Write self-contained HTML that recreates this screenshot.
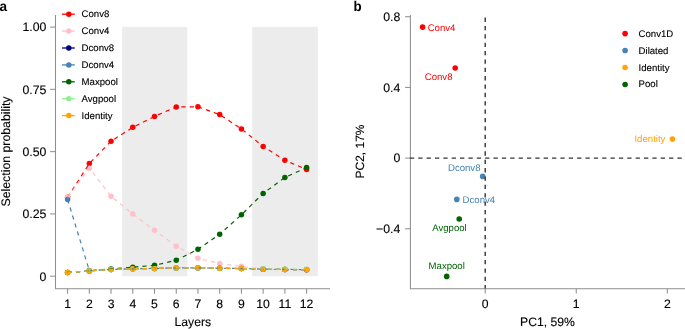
<!DOCTYPE html>
<html><head><meta charset="utf-8"><style>
html,body{margin:0;padding:0;background:#fff;width:685px;height:329px;overflow:hidden}
svg{display:block;will-change:transform}
</style></head><body>
<svg width="685" height="329" viewBox="0 0 685 329" font-family='"Liberation Sans", sans-serif' text-rendering="geometricPrecision">
<rect width="685" height="329" fill="#fff"/>
<rect x="122.2" y="26.9" width="65.1" height="249.3" fill="#ececec"/>
<rect x="252.2" y="26.9" width="65.6" height="249.3" fill="#ececec"/>
<path d="M55.5 15 V288.75 H330" fill="none" stroke="#8f8f8f" stroke-width="1.05"/>
<path d="M50.1 27.1 H55.5" stroke="#8f8f8f" stroke-width="1.05"/>
<text x="46.4" y="31.40" font-size="12.3" text-anchor="end" fill="#000" stroke="#000" stroke-width="0.12">1.00</text>
<path d="M50.1 89.35 H55.5" stroke="#8f8f8f" stroke-width="1.05"/>
<text x="46.4" y="93.65" font-size="12.3" text-anchor="end" fill="#000" stroke="#000" stroke-width="0.12">0.75</text>
<path d="M50.1 151.65 H55.5" stroke="#8f8f8f" stroke-width="1.05"/>
<text x="46.4" y="155.95" font-size="12.3" text-anchor="end" fill="#000" stroke="#000" stroke-width="0.12">0.50</text>
<path d="M50.1 213.9 H55.5" stroke="#8f8f8f" stroke-width="1.05"/>
<text x="46.4" y="218.20" font-size="12.3" text-anchor="end" fill="#000" stroke="#000" stroke-width="0.12">0.25</text>
<path d="M50.1 276.2 H55.5" stroke="#8f8f8f" stroke-width="1.05"/>
<text x="46.4" y="280.50" font-size="12.3" text-anchor="end" fill="#000" stroke="#000" stroke-width="0.12">0</text>
<path d="M67.60 288.75 V293.8" stroke="#8f8f8f" stroke-width="1.05"/>
<text x="67.60" y="307.7" font-size="12.2" text-anchor="middle" fill="#000" stroke="#000" stroke-width="0.12">1</text>
<path d="M89.33 288.75 V293.8" stroke="#8f8f8f" stroke-width="1.05"/>
<text x="89.33" y="307.7" font-size="12.2" text-anchor="middle" fill="#000" stroke="#000" stroke-width="0.12">2</text>
<path d="M111.05 288.75 V293.8" stroke="#8f8f8f" stroke-width="1.05"/>
<text x="111.05" y="307.7" font-size="12.2" text-anchor="middle" fill="#000" stroke="#000" stroke-width="0.12">3</text>
<path d="M132.78 288.75 V293.8" stroke="#8f8f8f" stroke-width="1.05"/>
<text x="132.78" y="307.7" font-size="12.2" text-anchor="middle" fill="#000" stroke="#000" stroke-width="0.12">4</text>
<path d="M154.51 288.75 V293.8" stroke="#8f8f8f" stroke-width="1.05"/>
<text x="154.51" y="307.7" font-size="12.2" text-anchor="middle" fill="#000" stroke="#000" stroke-width="0.12">5</text>
<path d="M176.24 288.75 V293.8" stroke="#8f8f8f" stroke-width="1.05"/>
<text x="176.24" y="307.7" font-size="12.2" text-anchor="middle" fill="#000" stroke="#000" stroke-width="0.12">6</text>
<path d="M197.96 288.75 V293.8" stroke="#8f8f8f" stroke-width="1.05"/>
<text x="197.96" y="307.7" font-size="12.2" text-anchor="middle" fill="#000" stroke="#000" stroke-width="0.12">7</text>
<path d="M219.69 288.75 V293.8" stroke="#8f8f8f" stroke-width="1.05"/>
<text x="219.69" y="307.7" font-size="12.2" text-anchor="middle" fill="#000" stroke="#000" stroke-width="0.12">8</text>
<path d="M241.42 288.75 V293.8" stroke="#8f8f8f" stroke-width="1.05"/>
<text x="241.42" y="307.7" font-size="12.2" text-anchor="middle" fill="#000" stroke="#000" stroke-width="0.12">9</text>
<path d="M263.14 288.75 V293.8" stroke="#8f8f8f" stroke-width="1.05"/>
<text x="263.14" y="307.7" font-size="12.2" text-anchor="middle" fill="#000" stroke="#000" stroke-width="0.12">10</text>
<path d="M284.87 288.75 V293.8" stroke="#8f8f8f" stroke-width="1.05"/>
<text x="284.87" y="307.7" font-size="12.2" text-anchor="middle" fill="#000" stroke="#000" stroke-width="0.12">11</text>
<path d="M306.60 288.75 V293.8" stroke="#8f8f8f" stroke-width="1.05"/>
<text x="306.60" y="307.7" font-size="12.2" text-anchor="middle" fill="#000" stroke="#000" stroke-width="0.12">12</text>
<text x="192.8" y="326.3" font-size="12.2" text-anchor="middle" fill="#000" stroke="#000" stroke-width="0.12">Layers</text>
<text transform="translate(10,151.5) rotate(-90)" x="0" y="0" font-size="12.3" text-anchor="middle" fill="#000" stroke="#000" stroke-width="0.12">Selection probability</text>
<text transform="translate(-0.4,10.9) scale(0.97,1)" font-size="14" font-weight="bold" fill="#000">a</text>
<circle cx="67.60" cy="197.3" r="2.75" fill="#ff0000"/>
<circle cx="89.33" cy="163.5" r="2.75" fill="#ff0000"/>
<circle cx="111.05" cy="141.2" r="2.75" fill="#ff0000"/>
<circle cx="132.78" cy="127.3" r="2.75" fill="#ff0000"/>
<circle cx="154.51" cy="116.4" r="2.75" fill="#ff0000"/>
<circle cx="176.24" cy="106.9" r="2.75" fill="#ff0000"/>
<circle cx="197.96" cy="106.8" r="2.75" fill="#ff0000"/>
<circle cx="219.69" cy="114.6" r="2.75" fill="#ff0000"/>
<circle cx="241.42" cy="128.9" r="2.75" fill="#ff0000"/>
<circle cx="263.14" cy="146.4" r="2.75" fill="#ff0000"/>
<circle cx="284.87" cy="160.3" r="2.75" fill="#ff0000"/>
<circle cx="306.60" cy="169.4" r="2.75" fill="#ff0000"/>
<circle cx="67.60" cy="197.3" r="2.75" fill="#ffc0cb"/>
<circle cx="89.33" cy="168.2" r="2.75" fill="#ffc0cb"/>
<circle cx="111.05" cy="196.2" r="2.75" fill="#ffc0cb"/>
<circle cx="132.78" cy="214.0" r="2.75" fill="#ffc0cb"/>
<circle cx="154.51" cy="230.2" r="2.75" fill="#ffc0cb"/>
<circle cx="176.24" cy="246.2" r="2.75" fill="#ffc0cb"/>
<circle cx="197.96" cy="258.3" r="2.75" fill="#ffc0cb"/>
<circle cx="219.69" cy="263.6" r="2.75" fill="#ffc0cb"/>
<circle cx="241.42" cy="266.3" r="2.75" fill="#ffc0cb"/>
<circle cx="263.14" cy="269.2" r="2.75" fill="#ffc0cb"/>
<circle cx="284.87" cy="269.5" r="2.75" fill="#ffc0cb"/>
<circle cx="306.60" cy="269.7" r="2.75" fill="#ffc0cb"/>
<circle cx="67.60" cy="272.4" r="2.75" fill="#000080"/>
<circle cx="89.33" cy="270.9" r="2.75" fill="#000080"/>
<circle cx="111.05" cy="269.4" r="2.75" fill="#000080"/>
<circle cx="132.78" cy="268.8" r="2.75" fill="#000080"/>
<circle cx="154.51" cy="268.4" r="2.75" fill="#000080"/>
<circle cx="176.24" cy="267.9" r="2.75" fill="#000080"/>
<circle cx="197.96" cy="267.8" r="2.75" fill="#000080"/>
<circle cx="219.69" cy="268.2" r="2.75" fill="#000080"/>
<circle cx="241.42" cy="268.6" r="2.75" fill="#000080"/>
<circle cx="263.14" cy="269.2" r="2.75" fill="#000080"/>
<circle cx="284.87" cy="269.5" r="2.75" fill="#000080"/>
<circle cx="306.60" cy="269.7" r="2.75" fill="#000080"/>
<circle cx="67.60" cy="199.5" r="2.75" fill="#4682b4"/>
<circle cx="89.33" cy="270.6" r="2.75" fill="#4682b4"/>
<circle cx="111.05" cy="269.5" r="2.75" fill="#4682b4"/>
<circle cx="132.78" cy="268.8" r="2.75" fill="#4682b4"/>
<circle cx="154.51" cy="268.4" r="2.75" fill="#4682b4"/>
<circle cx="176.24" cy="268.0" r="2.75" fill="#4682b4"/>
<circle cx="197.96" cy="267.9" r="2.75" fill="#4682b4"/>
<circle cx="219.69" cy="268.2" r="2.75" fill="#4682b4"/>
<circle cx="241.42" cy="268.6" r="2.75" fill="#4682b4"/>
<circle cx="263.14" cy="269.1" r="2.75" fill="#4682b4"/>
<circle cx="284.87" cy="269.4" r="2.75" fill="#4682b4"/>
<circle cx="306.60" cy="269.6" r="2.75" fill="#4682b4"/>
<circle cx="67.60" cy="272.4" r="2.75" fill="#006400"/>
<circle cx="89.33" cy="270.9" r="2.75" fill="#006400"/>
<circle cx="111.05" cy="268.9" r="2.75" fill="#006400"/>
<circle cx="132.78" cy="267.2" r="2.75" fill="#006400"/>
<circle cx="154.51" cy="265.3" r="2.75" fill="#006400"/>
<circle cx="176.24" cy="260.3" r="2.75" fill="#006400"/>
<circle cx="197.96" cy="249.3" r="2.75" fill="#006400"/>
<circle cx="219.69" cy="234.2" r="2.75" fill="#006400"/>
<circle cx="241.42" cy="214.8" r="2.75" fill="#006400"/>
<circle cx="263.14" cy="193.4" r="2.75" fill="#006400"/>
<circle cx="284.87" cy="177.5" r="2.75" fill="#006400"/>
<circle cx="306.60" cy="167.6" r="2.75" fill="#006400"/>
<circle cx="67.60" cy="272.4" r="2.75" fill="#90ee90"/>
<circle cx="89.33" cy="270.9" r="2.75" fill="#90ee90"/>
<circle cx="111.05" cy="269.4" r="2.75" fill="#90ee90"/>
<circle cx="132.78" cy="268.8" r="2.75" fill="#90ee90"/>
<circle cx="154.51" cy="268.4" r="2.75" fill="#90ee90"/>
<circle cx="176.24" cy="267.9" r="2.75" fill="#90ee90"/>
<circle cx="197.96" cy="267.8" r="2.75" fill="#90ee90"/>
<circle cx="219.69" cy="268.2" r="2.75" fill="#90ee90"/>
<circle cx="241.42" cy="268.6" r="2.75" fill="#90ee90"/>
<circle cx="263.14" cy="268.8" r="2.75" fill="#90ee90"/>
<circle cx="284.87" cy="269.1" r="2.75" fill="#90ee90"/>
<circle cx="306.60" cy="269.3" r="2.75" fill="#90ee90"/>
<circle cx="67.60" cy="272.4" r="2.75" fill="#ffa500"/>
<circle cx="89.33" cy="270.9" r="2.75" fill="#ffa500"/>
<circle cx="111.05" cy="269.4" r="2.75" fill="#ffa500"/>
<circle cx="132.78" cy="268.8" r="2.75" fill="#ffa500"/>
<circle cx="154.51" cy="268.4" r="2.75" fill="#ffa500"/>
<circle cx="176.24" cy="267.9" r="2.75" fill="#ffa500"/>
<circle cx="197.96" cy="267.8" r="2.75" fill="#ffa500"/>
<circle cx="219.69" cy="268.2" r="2.75" fill="#ffa500"/>
<circle cx="241.42" cy="268.6" r="2.75" fill="#ffa500"/>
<circle cx="263.14" cy="269.2" r="2.75" fill="#ffa500"/>
<circle cx="284.87" cy="269.5" r="2.75" fill="#ffa500"/>
<circle cx="306.60" cy="269.7" r="2.75" fill="#ffa500"/>
<polyline points="67.60,197.3 89.33,163.5 111.05,141.2 132.78,127.3 154.51,116.4 176.24,106.9 197.96,106.8 219.69,114.6 241.42,128.9 263.14,146.4 284.87,160.3 306.60,169.4" fill="none" stroke="#ff0000" stroke-width="1.2" stroke-dasharray="4.2 4.15"/>
<polyline points="67.60,197.3 89.33,168.2 111.05,196.2 132.78,214.0 154.51,230.2 176.24,246.2 197.96,258.3 219.69,263.6 241.42,266.3 263.14,269.2 284.87,269.5 306.60,269.7" fill="none" stroke="#ffc0cb" stroke-width="1.2" stroke-dasharray="4.2 4.15"/>
<polyline points="67.60,272.4 89.33,270.9 111.05,269.4 132.78,268.8 154.51,268.4 176.24,267.9 197.96,267.8 219.69,268.2 241.42,268.6 263.14,269.2 284.87,269.5 306.60,269.7" fill="none" stroke="#000080" stroke-width="1.2" stroke-dasharray="4.2 4.15"/>
<polyline points="67.60,199.5 89.33,270.6 111.05,269.5 132.78,268.8 154.51,268.4 176.24,268.0 197.96,267.9 219.69,268.2 241.42,268.6 263.14,269.1 284.87,269.4 306.60,269.6" fill="none" stroke="#4682b4" stroke-width="1.2" stroke-dasharray="4.2 4.15"/>
<polyline points="67.60,272.4 89.33,270.9 111.05,268.9 132.78,267.2 154.51,265.3 176.24,260.3 197.96,249.3 219.69,234.2 241.42,214.8 263.14,193.4 284.87,177.5 306.60,167.6" fill="none" stroke="#006400" stroke-width="1.2" stroke-dasharray="4.2 4.15"/>
<polyline points="67.60,272.4 89.33,270.9 111.05,269.4 132.78,268.8 154.51,268.4 176.24,267.9 197.96,267.8 219.69,268.2 241.42,268.6 263.14,268.8 284.87,269.1 306.60,269.3" fill="none" stroke="#90ee90" stroke-width="1.2" stroke-dasharray="4.2 4.15"/>
<polyline points="67.60,272.4 89.33,270.9 111.05,269.4 132.78,268.8 154.51,268.4 176.24,267.9 197.96,267.8 219.69,268.2 241.42,268.6 263.14,269.2 284.87,269.5 306.60,269.7" fill="none" stroke="#ffa500" stroke-width="1.2" stroke-dasharray="4.2 4.15"/>
<path d="M62 14.2 H74.8" stroke="#ff0000" stroke-width="1.3"/>
<circle cx="68.8" cy="14.2" r="2.75" fill="#ff0000"/>
<text x="81.6" y="17.2" font-size="9.6" fill="#000" stroke="#000" stroke-width="0.12">Conv8</text>
<path d="M62 31.1 H74.8" stroke="#ffc0cb" stroke-width="1.3"/>
<circle cx="68.8" cy="31.1" r="2.75" fill="#ffc0cb"/>
<text x="81.6" y="34.1" font-size="9.6" fill="#000" stroke="#000" stroke-width="0.12">Conv4</text>
<path d="M62 48.0 H74.8" stroke="#000080" stroke-width="1.3"/>
<circle cx="68.8" cy="48.0" r="2.75" fill="#000080"/>
<text x="81.6" y="51.0" font-size="9.6" fill="#000" stroke="#000" stroke-width="0.12">Dconv8</text>
<path d="M62 64.9 H74.8" stroke="#4682b4" stroke-width="1.3"/>
<circle cx="68.8" cy="64.9" r="2.75" fill="#4682b4"/>
<text x="81.6" y="67.9" font-size="9.6" fill="#000" stroke="#000" stroke-width="0.12">Dconv4</text>
<path d="M62 81.8 H74.8" stroke="#006400" stroke-width="1.3"/>
<circle cx="68.8" cy="81.8" r="2.75" fill="#006400"/>
<text x="81.6" y="84.8" font-size="9.6" fill="#000" stroke="#000" stroke-width="0.12">Maxpool</text>
<path d="M62 98.7 H74.8" stroke="#90ee90" stroke-width="1.3"/>
<circle cx="68.8" cy="98.7" r="2.75" fill="#90ee90"/>
<text x="81.6" y="101.7" font-size="9.6" fill="#000" stroke="#000" stroke-width="0.12">Avgpool</text>
<path d="M62 115.6 H74.8" stroke="#ffa500" stroke-width="1.3"/>
<circle cx="68.8" cy="115.6" r="2.75" fill="#ffa500"/>
<text x="81.6" y="118.6" font-size="9.6" fill="#000" stroke="#000" stroke-width="0.12">Identity</text>
<text transform="translate(353.4,10.7) scale(0.95,1)" font-size="14" font-weight="bold" fill="#000">b</text>
<path d="M410.4 15 V288.7 H685" fill="none" stroke="#8f8f8f" stroke-width="1.05"/>
<path d="M405.1 16.70 H410.4" stroke="#8f8f8f" stroke-width="1.05"/>
<text x="400.3" y="21.00" font-size="12.3" text-anchor="end" fill="#000" stroke="#000" stroke-width="0.12">0.8</text>
<path d="M405.1 87.40 H410.4" stroke="#8f8f8f" stroke-width="1.05"/>
<text x="400.3" y="91.70" font-size="12.3" text-anchor="end" fill="#000" stroke="#000" stroke-width="0.12">0.4</text>
<path d="M405.1 158.10 H410.4" stroke="#8f8f8f" stroke-width="1.05"/>
<text x="400.3" y="162.40" font-size="12.3" text-anchor="end" fill="#000" stroke="#000" stroke-width="0.12">0</text>
<path d="M405.1 228.80 H410.4" stroke="#8f8f8f" stroke-width="1.05"/>
<text x="400.3" y="233.10" font-size="12.3" text-anchor="end" fill="#000" stroke="#000" stroke-width="0.12">−0.4</text>
<path d="M485.20 288.7 V293.6" stroke="#8f8f8f" stroke-width="1.05"/>
<text x="485.20" y="307.7" font-size="12.2" text-anchor="middle" fill="#000" stroke="#000" stroke-width="0.12">0</text>
<path d="M576.25 288.7 V293.6" stroke="#8f8f8f" stroke-width="1.05"/>
<text x="576.25" y="307.7" font-size="12.2" text-anchor="middle" fill="#000" stroke="#000" stroke-width="0.12">1</text>
<path d="M667.30 288.7 V293.6" stroke="#8f8f8f" stroke-width="1.05"/>
<text x="667.30" y="307.7" font-size="12.2" text-anchor="middle" fill="#000" stroke="#000" stroke-width="0.12">2</text>
<text x="547.5" y="326.3" font-size="12.2" text-anchor="middle" fill="#000" stroke="#000" stroke-width="0.12">PC1, 59%</text>
<text transform="translate(364,151.5) rotate(-90)" font-size="12" text-anchor="middle" fill="#000" stroke="#000" stroke-width="0.12">PC2, 17%</text>
<circle cx="422.6" cy="27.1" r="2.8" fill="#ff0000"/>
<text x="427.7" y="30.5" font-size="9.6" text-anchor="start" fill="#ff0000">Conv4</text>
<circle cx="455.2" cy="68.0" r="2.8" fill="#ff0000"/>
<text x="452.5" y="79.6" font-size="9.6" text-anchor="end" fill="#ff0000">Conv8</text>
<circle cx="482.7" cy="176.4" r="2.8" fill="#4682b4"/>
<text x="480.5" y="170.5" font-size="9.6" text-anchor="end" fill="#4682b4">Dconv8</text>
<circle cx="456.8" cy="199.4" r="2.8" fill="#4682b4"/>
<text x="462.6" y="203.4" font-size="9.6" text-anchor="start" fill="#4682b4">Dconv4</text>
<circle cx="459.2" cy="219.0" r="2.8" fill="#006400"/>
<text x="449.5" y="230.6" font-size="9.6" text-anchor="middle" fill="#006400">Avgpool</text>
<circle cx="446.7" cy="276.4" r="2.8" fill="#006400"/>
<text x="446.7" y="269.0" font-size="9.6" text-anchor="middle" fill="#006400">Maxpool</text>
<circle cx="672.4" cy="139.1" r="2.8" fill="#ffa500"/>
<text x="665.4" y="142.2" font-size="9.6" text-anchor="end" fill="#ffa500">Identity</text>
<path d="M409.9 158.1 H685" stroke="#333" stroke-width="1.4" stroke-dasharray="4.3 4.06"/>
<path d="M485.2 17.6 V288.6" stroke="#333" stroke-width="1.4" stroke-dasharray="4.3 4.06"/>
<circle cx="625.1" cy="33.60" r="2.8" fill="#ff0000"/>
<text x="638.6" y="36.60" font-size="9.6" fill="#000" stroke="#000" stroke-width="0.12">Conv1D</text>
<circle cx="625.1" cy="50.55" r="2.8" fill="#4682b4"/>
<text x="638.6" y="53.55" font-size="9.6" fill="#000" stroke="#000" stroke-width="0.12">Dilated</text>
<circle cx="625.1" cy="67.50" r="2.8" fill="#ffa500"/>
<text x="638.6" y="70.50" font-size="9.6" fill="#000" stroke="#000" stroke-width="0.12">Identity</text>
<circle cx="625.1" cy="84.45" r="2.8" fill="#006400"/>
<text x="638.6" y="87.45" font-size="9.6" fill="#000" stroke="#000" stroke-width="0.12">Pool</text>
</svg>
</body></html>
